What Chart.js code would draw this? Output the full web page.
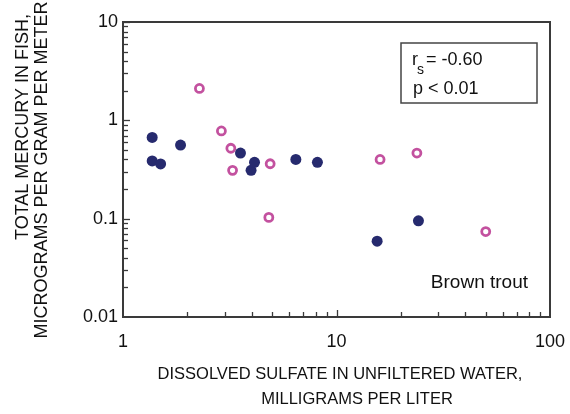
<!DOCTYPE html>
<html>
<head>
<meta charset="utf-8">
<script src="https://cdn.jsdelivr.net/npm/chart.js@4.4.1/dist/chart.umd.min.js"></script>
<style>
  html, body { margin: 0; padding: 0; background: #fff; }
</style>
</head>
<body>
<canvas id="grafico" width="570" height="414"></canvas>
<script>
// sulfate (mg/L) and mercury (ug/g per m)
const cheiosX = [1.37, 1.37, 1.50, 1.86, 3.55, 3.98, 4.13, 6.45, 8.14, 15.5, 24.2];
const cheiosY = [0.67, 0.386, 0.36, 0.56, 0.465, 0.31, 0.374, 0.40, 0.374, 0.059, 0.095];
const vaziosX = [2.28, 2.89, 3.20, 3.26, 4.82, 4.89, 16.0, 23.8, 50.0];
const vaziosY = [2.11, 0.78, 0.52, 0.31, 0.103, 0.362, 0.40, 0.465, 0.074];

const ticksX = [1,2,3,4,5,6,7,8,9,10,20,30,40,50,60,70,80,90,100];
const ticksY = [0.01,0.02,0.03,0.04,0.05,0.06,0.07,0.08,0.09,
                0.1,0.2,0.3,0.4,0.5,0.6,0.7,0.8,0.9,
                1,2,3,4,5,6,7,8,9,10];
const rotulosX = [1, 10, 100];
const rotulosY = ["0.01", "0.1", "1", "10"];

const tituloX = ["DISSOLVED SULFATE IN UNFILTERED WATER,", "MILLIGRAMS PER LITER"];
const tituloY = ["TOTAL MERCURY IN FISH,", "MICROGRAMS PER GRAM PER METER"];
const especie = "Brown trout";
const estat = { r: "= -0.60", p: "p < 0.01" };

const FONTE = "'Liberation Sans', Arial, sans-serif";
const AZUL = "#262a6e";
const ROSA = "#c3519f";
const TEXTO = "#111";

/* =========================
   MOLDURA, TICKS, TEXTOS
========================= */
const moldura = {
  id: "moldura",
  afterDraw(chart) {
    const ctx = chart.ctx;
    const a = chart.chartArea;
    const sx = chart.scales.x, sy = chart.scales.y;

    ctx.save();
    ctx.strokeStyle = "#3a3a3a";
    ctx.lineWidth = 2;
    ctx.strokeRect(a.left, a.top, a.right - a.left, a.bottom - a.top);

    // ticks pra dentro
    ctx.lineWidth = 1.3;
    ticksX.forEach(v => {
      if (v === 1 || v === 100) return;
      const px = Math.round(sx.getPixelForValue(v)) + 0.5;
      const len = v === 10 ? 7 : 5;
      ctx.beginPath();
      ctx.moveTo(px, a.bottom);
      ctx.lineTo(px, a.bottom - len);
      ctx.stroke();
    });
    ticksY.forEach(v => {
      if (v === 0.01) return;
      const py = Math.round(sy.getPixelForValue(v)) + 0.5;
      const len = rotulosY.includes(String(v)) ? 7 : 5;
      ctx.beginPath();
      ctx.moveTo(a.left, py);
      ctx.lineTo(a.left + len, py);
      ctx.stroke();
    });

    // caixa r_s / p
    const bx = a.right - 149, by = a.top + 21;
    ctx.strokeStyle = "#444";
    ctx.lineWidth = 1.5;
    ctx.strokeRect(bx, by, 136, 60);

    ctx.fillStyle = TEXTO;
    ctx.textAlign = "left";
    ctx.textBaseline = "alphabetic";
    ctx.font = "18px " + FONTE;
    ctx.fillText("r", bx + 11, by + 22);
    const wr = ctx.measureText("r").width;
    ctx.font = "14px " + FONTE;
    ctx.fillText("s", bx + 11 + wr - 1, by + 31);
    ctx.font = "18px " + FONTE;
    ctx.fillText(estat.r, bx + 25, by + 22);
    ctx.fillText(estat.p, bx + 12, by + 51);

    // especie
    ctx.font = "19px " + FONTE;
    ctx.textAlign = "right";
    ctx.fillText(especie, a.right - 22, a.bottom - 29);

    // titulo eixo x
    ctx.font = "16.5px " + FONTE;
    ctx.textAlign = "center";
    ctx.fillText(tituloX[0], 340, 379);
    ctx.fillText(tituloX[1], 357, 403.5);

    // titulo eixo y
    ctx.font = "18px " + FONTE;
    ctx.save();
    ctx.translate(28, 127);
    ctx.rotate(-Math.PI / 2);
    ctx.fillText(tituloY[0], 0, 0);
    ctx.restore();
    ctx.save();
    ctx.translate(47, 170);
    ctx.rotate(-Math.PI / 2);
    ctx.fillText(tituloY[1], 0, 0);
    ctx.restore();

    ctx.restore();
  }
};

/* =========================
   GRAFICO
========================= */
new Chart(document.getElementById("grafico"), {
  type: "scatter",
  data: {
    datasets: [
      {
        label: "cheios",
        data: cheiosX.map((x, i) => ({ x, y: cheiosY[i] })),
        pointRadius: 5.5,
        pointBackgroundColor: AZUL,
        pointBorderColor: AZUL,
        pointBorderWidth: 0
      },
      {
        label: "vazios",
        data: vaziosX.map((x, i) => ({ x, y: vaziosY[i] })),
        pointRadius: 4,
        pointBackgroundColor: "#fff",
        pointBorderColor: ROSA,
        pointBorderWidth: 2.8
      }
    ]
  },
  options: {
    responsive: false,
    animation: false,
    devicePixelRatio: 1,
    layout: { padding: { top: 22, right: 20, left: 0, bottom: 0 } },
    plugins: { legend: { display: false }, tooltip: { enabled: false } },
    scales: {
      x: {
        type: "logarithmic",
        min: 1, max: 100,
        afterBuildTicks: s => { s.ticks = ticksX.map(v => ({ value: v })); },
        afterFit: s => { s.height = 97; },
        grid: { display: false },
        border: { display: false },
        ticks: {
          autoSkip: false, maxRotation: 0, padding: 4,
          color: TEXTO,
          font: { family: FONTE, size: 18, lineHeight: 1.4 },
          callback: v => rotulosX.includes(v) ? String(v) : ""
        }
      },
      y: {
        type: "logarithmic",
        min: 0.01, max: 10,
        afterBuildTicks: s => { s.ticks = ticksY.map(v => ({ value: v })); },
        afterFit: s => { s.width = 123; },
        grid: { display: false },
        border: { display: false },
        ticks: {
          autoSkip: false, padding: -3,
          color: TEXTO,
          font: { family: FONTE, size: 18 },
          callback: v => rotulosY.includes(String(v)) ? String(v) : ""
        }
      }
    }
  },
  plugins: [moldura]
});
</script>
</body>
</html>
